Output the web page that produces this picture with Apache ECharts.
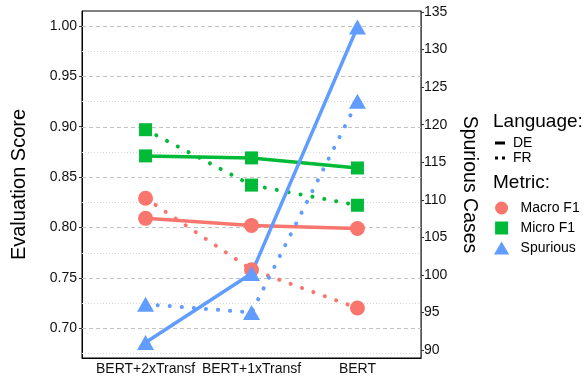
<!DOCTYPE html>
<html>
<head>
<meta charset="utf-8">
<script src="https://cdn.jsdelivr.net/npm/echarts@6/dist/echarts.min.js"></script>
<style>html,body{margin:0;padding:0;background:#fff}#c{width:587px;height:376px}</style>
</head>
<body>
<div id="c"></div>
<script>
const categories = ['BERT+2xTransf', 'BERT+1xTransf', 'BERT'];
const macroDE = [0.809, 0.802, 0.799];
const macroFR = [0.829, 0.758, 0.720];
const microDE = [0.871, 0.869, 0.859];
const microFR = [0.897, 0.842, 0.822];
const spuriousDE = [91.0, 100.2, 133.0];
const spuriousFR = [96.1, 95.0, 123.1];
const scoreTicks = [0.70, 0.75, 0.80, 0.85, 0.90, 0.95, 1.00];
const scoreMinor = [0.675, 0.725, 0.775, 0.825, 0.875, 0.925, 0.975];
const spuriousTicks = [90, 95, 100, 105, 110, 115, 120, 125, 130, 135];

const RED = '#F8766D', GREEN = '#00BA38', BLUE = '#619CFF';
const FONT = 'Liberation Sans';

function pts(arr) { return arr.map((v, i) => [i, v]); }
function mk(name, data, color, symbol, size, dotted, yIdx) {
  return {
    name: name, type: 'line', data: pts(data), yAxisIndex: yIdx,
    symbol: symbol, symbolSize: size, showSymbol: true,
    itemStyle: { color: color },
    lineStyle: dotted ? { color: color, width: 4, type: [0.1, 12], cap: 'round' } : { color: color, width: 3.5 },
    emphasis: { disabled: true }, animation: false, z: 3
  };
}
function gridSeries(values, color, dash) {
  return {
    type: 'custom', silent: true, z: 1, yAxisIndex: 0, animation: false,
    data: values.map(v => [0, v]),
    renderItem: function (params, api) {
      const cs = params.coordSys;
      const y = Math.round(api.coord([0, api.value(1)])[1]) + 0.5;
      return {
        type: 'line',
        shape: { x1: cs.x, y1: y, x2: cs.x + cs.width, y2: y },
        style: { stroke: color, lineWidth: 1, lineDash: dash }
      };
    }
  };
}

const chart = echarts.init(document.getElementById('c'), null, { renderer: 'canvas' });
chart.setOption({
  animation: false,
  textStyle: { fontFamily: FONT },
  grid: { left: 82, right: 166, top: 11, bottom: 16, show: true, borderColor: '#000', borderWidth: 1, backgroundColor: 'transparent' },
  title: [
    { text: 'Language:', left: 493, top: 112, padding: 0, textStyle: { fontFamily: FONT, fontSize: 19, fontWeight: 'normal', color: '#000' } },
    { text: 'Metric:', left: 493, top: 173, padding: 0, textStyle: { fontFamily: FONT, fontSize: 19, fontWeight: 'normal', color: '#000' } }
  ],
  legend: [
    {
      data: [
        { name: 'DE', icon: 'path://M0,0h10v3h-10z' },
        { name: 'FR', icon: 'path://M0,0h3v3h-3z M7,0h3v3h-3z' }
      ],
      orient: 'vertical', left: 495, top: 136, padding: 0, itemWidth: 10, itemHeight: 3, itemGap: 1,
      textStyle: { fontFamily: FONT, fontSize: 14, lineHeight: 14, color: '#000', padding: [0, 0, 0, 3] },
      selectedMode: false
    },
    {
      data: [
        { name: 'Macro F1', icon: 'circle' },
        { name: 'Micro F1', icon: 'path://M0,0h12v12h-12z' },
        { name: 'Spurious', icon: 'path://M7,0L14,12L0,12z' }
      ],
      orient: 'vertical', left: 494, top: 201, padding: 0, itemWidth: 20, itemHeight: 13, itemGap: 6,
      symbolKeepAspect: true,
      textStyle: { fontFamily: FONT, fontSize: 14, lineHeight: 13, color: '#000', padding: [0, 0, 0, 4] },
      selectedMode: false
    }
  ],
  xAxis: {
    type: 'value', min: -0.6, max: 2.6,
    axisLine: { show: true, onZero: false, lineStyle: { color: '#000' } },
    axisTick: { show: false },
    splitLine: { show: false },
    axisLabel: { customValues: [0, 1, 2], formatter: v => categories[Math.round(v)], fontSize: 14, color: '#111', margin: 4, hideOverlap: false, showMinLabel: true, showMaxLabel: true }
  },
  yAxis: [
    {
      type: 'value', min: 0.6704, max: 1.0148, position: 'left',
      name: 'Evaluation Score', nameLocation: 'middle', nameGap: 53,
      nameTextStyle: { fontFamily: FONT, fontSize: 20, color: '#000' },
      axisLine: { show: true, onZero: false, lineStyle: { color: '#000' } },
      axisTick: { show: true, customValues: scoreTicks, length: 3, lineStyle: { color: '#333' } },
      axisLabel: { customValues: scoreTicks, formatter: v => v.toFixed(2), fontSize: 14, color: '#111', margin: 5 },
      splitLine: { show: false }
    },
    {
      type: 'value', min: 88.94, max: 135.13, position: 'right',
      name: 'Spurious Cases', nameLocation: 'middle', nameGap: 38, nameRotate: -90,
      nameTextStyle: { fontFamily: FONT, fontSize: 19.5, color: '#000' },
      axisLine: { show: true, onZero: false, lineStyle: { color: '#555' } },
      axisTick: { show: true, customValues: spuriousTicks, length: 3, lineStyle: { color: '#333' } },
      axisLabel: { customValues: spuriousTicks, fontSize: 14, color: '#111', margin: 3 },
      splitLine: { show: false }
    }
  ],
  series: [
    gridSeries(scoreMinor, '#d6d6d6', [1, 2]),
    gridSeries(scoreTicks, '#c2c2c2', [4, 3]),
    mk('Macro F1 DE', macroDE, RED, 'circle', 15, false, 0),
    mk('Macro F1 FR', macroFR, RED, 'circle', 15, true, 0),
    mk('Micro F1 DE', microDE, GREEN, 'rect', 13, false, 0),
    mk('Micro F1 FR', microFR, GREEN, 'rect', 13, true, 0),
    mk('Spurious DE', spuriousDE, BLUE, 'triangle', [17, 15], false, 1),
    mk('Spurious FR', spuriousFR, BLUE, 'triangle', [17, 15], true, 1),
    { name: 'DE', type: 'line', data: [], itemStyle: { color: '#000' } },
    { name: 'FR', type: 'line', data: [], itemStyle: { color: '#000' } },
    { name: 'Macro F1', type: 'line', data: [], itemStyle: { color: RED } },
    { name: 'Micro F1', type: 'line', data: [], itemStyle: { color: GREEN } },
    { name: 'Spurious', type: 'line', data: [], itemStyle: { color: BLUE } }
  ]
});
</script>
</body>
</html>
